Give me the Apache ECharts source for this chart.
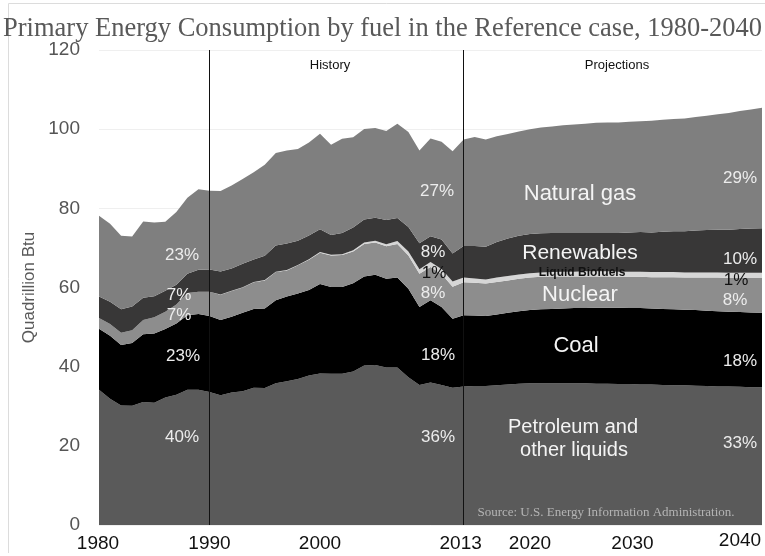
<!DOCTYPE html>
<html>
<head>
<meta charset="utf-8">
<script src="https://cdn.jsdelivr.net/npm/echarts@6/dist/echarts.min.js"></script>
<style>
html,body{margin:0;padding:0;background:#fff;}
#chart{width:765px;height:556px;}
</style>
</head>
<body>
<div id="chart"></div>
<script>
// Years 1980-2040 (categories)
const years = [];
for (let y = 1980; y <= 2040; y++) years.push(String(y));

const tickLabels = ['1980', '1990', '2000', '2013', '2020', '2030', '2040'];
const yTicks = [0, 20, 40, 60, 80, 100, 120];

// Quadrillion Btu, 1980-2013 history + 2014-2040 projections
const petroleum = [34.2, 31.9, 30.2, 30.1, 31.1, 30.9, 32.2, 32.9, 34.2, 34.2, 33.6, 32.8, 33.5, 33.8, 34.7, 34.6, 35.8, 36.3, 36.9, 37.8, 38.3, 38.2, 38.2, 38.8, 40.3, 40.4, 39.8, 39.8, 37.3, 35.4, 36.0, 35.4, 34.7, 35.0,
  35.1, 35.1, 35.3, 35.5, 35.7, 35.8, 35.8, 35.8, 35.8, 35.8, 35.8, 35.7, 35.7, 35.6, 35.6, 35.5, 35.5, 35.4, 35.3, 35.3, 35.2, 35.1, 35.0, 35.0, 34.9, 34.8, 34.8];
const coal = [15.4, 15.9, 15.3, 15.9, 17.1, 17.5, 17.3, 18.0, 18.8, 19.1, 19.2, 19.0, 19.1, 19.8, 19.9, 20.1, 21.0, 21.4, 21.6, 21.6, 22.6, 21.9, 21.9, 22.3, 22.5, 22.8, 22.4, 22.7, 22.4, 19.7, 20.8, 19.7, 17.4, 18.0,
  17.8, 17.7, 17.9, 18.1, 18.3, 18.5, 18.7, 18.8, 18.9, 19.0, 19.0, 19.2, 19.2, 19.3, 19.2, 19.3, 19.2, 19.2, 19.2, 19.1, 19.1, 19.0, 19.0, 18.9, 18.9, 18.9, 18.8];
const nuclear = [2.7, 3.0, 3.1, 3.2, 3.6, 4.1, 4.4, 4.8, 5.6, 5.6, 6.1, 6.4, 6.5, 6.4, 6.7, 7.1, 7.1, 6.6, 7.1, 7.6, 7.9, 8.0, 8.1, 8.0, 8.2, 8.2, 8.2, 8.5, 8.4, 8.4, 8.4, 8.3, 8.1, 8.3,
  8.3, 8.2, 8.2, 8.2, 8.2, 8.2, 8.2, 8.2, 8.1, 8.0, 8.0, 7.9, 7.9, 7.8, 7.9, 7.9, 7.9, 8.0, 8.1, 8.1, 8.2, 8.4, 8.5, 8.5, 8.6, 8.7, 8.8];
const biofuels = [0, 0, 0, 0, 0, 0, 0, 0, 0, 0, 0.05, 0.06, 0.07, 0.08, 0.09, 0.1, 0.08, 0.1, 0.11, 0.12, 0.14, 0.15, 0.2, 0.28, 0.35, 0.4, 0.55, 0.75, 1.0, 1.1, 1.25, 1.3, 1.3, 1.2,
  1.1, 1.0, 1.1, 1.1, 1.1, 1.1, 1.1, 1.1, 1.2, 1.2, 1.3, 1.3, 1.3, 1.3, 1.3, 1.3, 1.3, 1.3, 1.3, 1.3, 1.3, 1.3, 1.3, 1.3, 1.3, 1.3, 1.3];
const renewables = [5.4, 5.6, 5.9, 6.0, 5.6, 5.3, 5.3, 5.0, 4.9, 5.6, 5.6, 5.8, 5.6, 5.9, 5.7, 6.1, 6.6, 6.7, 6.1, 6.0, 5.8, 5.0, 5.4, 5.8, 5.8, 5.8, 6.1, 5.8, 6.2, 6.6, 6.5, 7.4, 7.1, 8.0,
  8.2, 8.3, 9.0, 9.5, 9.8, 9.9, 9.9, 9.9, 9.8, 9.8, 9.7, 9.7, 9.7, 9.8, 9.9, 10.0, 10.0, 10.2, 10.3, 10.4, 10.6, 10.7, 10.8, 10.9, 11.1, 11.2, 11.3];
const naturalGas = [20.4, 19.7, 18.6, 17.7, 19.3, 18.6, 17.4, 18.4, 19.2, 20.3, 19.9, 20.3, 21.0, 21.4, 22.0, 23.0, 23.4, 23.5, 23.2, 23.5, 24.1, 22.8, 23.8, 22.8, 22.9, 22.7, 22.5, 23.8, 24.0, 23.4, 24.7, 24.7, 25.8, 26.9,
  27.5, 27.1, 26.7, 26.4, 26.3, 26.5, 26.7, 26.9, 27.2, 27.4, 27.6, 27.8, 27.9, 27.9, 28.0, 28.0, 28.2, 28.3, 28.4, 28.5, 28.7, 28.9, 29.2, 29.5, 29.8, 30.1, 30.4];

const dividerYears = ['1990', '2013'];

const sansFont = '"Liberation Sans", Arial, Helvetica, sans-serif';
const serifFont = '"Liberation Serif", "Times New Roman", serif';

function areaSeries(name, data, color) {
  return {
    name: name,
    type: 'line',
    stack: 'total',
    data: data,
    symbol: 'none',
    showSymbol: false,
    lineStyle: { width: 0 },
    areaStyle: { color: color, opacity: 1 },
    itemStyle: { color: color },
    emphasis: { disabled: true },
    silent: true
  };
}

const series = [
  areaSeries('Petroleum and other liquids', petroleum, '#5a5a5a'),
  areaSeries('Coal', coal, '#000000'),
  areaSeries('Nuclear', nuclear, '#8d8d8d'),
  areaSeries('Liquid Biofuels', biofuels, '#d6d6d6'),
  areaSeries('Renewables', renewables, '#383737'),
  areaSeries('Natural gas', naturalGas, '#7f7f7f')
];
series[5].markLine = {
  silent: true,
  symbol: ['none', 'none'],
  label: { show: false },
  lineStyle: { color: '#111', width: 1, type: 'solid' },
  data: dividerYears.map(function (y) { return { xAxis: y }; })
};

// x label nudges (as drawn in the reference)
const labelRich = {
  t1980: { fontSize: 19, color: '#111', fontFamily: sansFont, padding: [3, 2, 0, 0] },
  t1990: { fontSize: 19, color: '#111', fontFamily: sansFont, padding: [3, 0, 0, 0] },
  t2000: { fontSize: 19, color: '#111', fontFamily: sansFont, padding: [3, 0, 0, 0] },
  t2013: { fontSize: 19, color: '#111', fontFamily: sansFont, padding: [3, 6, 0, 0] },
  t2020: { fontSize: 19, color: '#111', fontFamily: sansFont, padding: [3, 22, 0, 0] },
  t2030: { fontSize: 19, color: '#111', fontFamily: sansFont, padding: [3, 38, 0, 0] },
  t2040: { fontSize: 19, color: '#111', fontFamily: sansFont, padding: [0, 44, 0, 0] }
};

function txt(x, y, text, size, color, font, extra) {
  const s = {
    text: text, x: x, y: y, fill: color,
    font: size + 'px ' + (font || sansFont),
    align: 'center', verticalAlign: 'middle'
  };
  if (extra) Object.assign(s, extra);
  return { type: 'text', z: 100, silent: true, style: s };
}

const pctColor = '#ececec';
const bigColor = '#f4f4f4';

const option = {
  animation: false,
  backgroundColor: '#ffffff',
  title: {
    text: 'Primary Energy Consumption by fuel in the Reference case, 1980-2040',
    left: 'center',
    top: 11,
    textStyle: { fontFamily: serifFont, fontSize: 26.5, fontWeight: 'normal', color: '#595959' }
  },
  grid: { left: 99, right: 3, top: 50, bottom: 31, containLabel: false },
  xAxis: {
    type: 'category',
    data: years,
    boundaryGap: false,
    axisLine: { show: false },
    axisTick: { show: false },
    splitLine: { show: false },
    axisLabel: {
      interval: function (idx, value) { return tickLabels.indexOf(value) >= 0; },
      formatter: function (value) { return '{t' + value + '|' + value + '}'; },
      rich: labelRich,
      margin: 6
    }
  },
  yAxis: {
    type: 'value',
    min: yTicks[0],
    max: yTicks[yTicks.length - 1],
    interval: 20,
    name: 'Quadrillion Btu',
    nameLocation: 'middle',
    nameGap: 54,
    nameTextStyle: { fontFamily: sansFont, fontSize: 17, color: '#595959' },
    axisLine: { show: false },
    axisTick: { show: false },
    axisLabel: { fontFamily: sansFont, fontSize: 19, color: '#555', margin: 19 },
    splitLine: { show: true, lineStyle: { color: '#efefef', width: 1 } }
  },
  series: series,
  graphic: [
    { type: 'line', silent: true, z: 0, shape: { x1: 8.5, y1: 3.5, x2: 765, y2: 3.5 }, style: { stroke: '#dcdcdc', lineWidth: 1 } },
    { type: 'line', silent: true, z: 0, shape: { x1: 8.5, y1: 3.5, x2: 8.5, y2: 553 }, style: { stroke: '#dcdcdc', lineWidth: 1 } },
    txt(330, 65, 'History', 13, '#111'),
    txt(617, 65, 'Projections', 13, '#111'),
    // 1990-ish shares
    txt(182, 255, '23%', 17, pctColor),
    txt(179, 295, '7%', 17, pctColor),
    txt(179, 315, '7%', 17, pctColor),
    txt(183, 356, '23%', 17, pctColor),
    txt(182, 437, '40%', 17, pctColor),
    // 2013 shares
    txt(437, 191, '27%', 17, pctColor),
    txt(433, 252, '8%', 17, pctColor),
    txt(434, 273, '1%', 17, '#111'),
    txt(433, 293, '8%', 17, pctColor),
    txt(438, 355, '18%', 17, pctColor),
    txt(438, 437, '36%', 17, pctColor),
    // 2040 shares
    txt(740, 178, '29%', 17, pctColor),
    txt(740, 259, '10%', 17, pctColor),
    txt(736, 280, '1%', 17, '#111'),
    txt(735, 300, '8%', 17, pctColor),
    txt(740, 361, '18%', 17, pctColor),
    txt(740, 443, '33%', 17, pctColor),
    // fuel names
    txt(580, 194, 'Natural gas', 22, bigColor),
    txt(580, 253, 'Renewables', 21, bigColor),
    txt(582, 273, 'Liquid Biofuels', 13, '#111', null, { letterSpacing: -0.6, fontWeight: 'bold' }),
    txt(580, 295, 'Nuclear', 22, bigColor),
    txt(576, 346, 'Coal', 22, bigColor),
    txt(573, 427, 'Petroleum and', 20, bigColor),
    txt(574, 450, 'other liquids', 20, bigColor),
    txt(606, 513, 'Source: U.S. Energy Information Administration.', 13, '#b4b4b4', serifFont)
  ]
};

const chart = echarts.init(document.getElementById('chart'), null, { renderer: 'canvas' });
chart.setOption(option);
</script>
</body>
</html>
